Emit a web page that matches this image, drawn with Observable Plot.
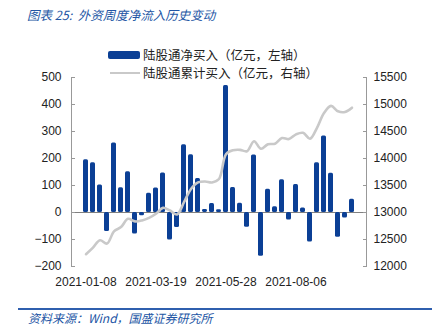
<!DOCTYPE html>
<html><head><meta charset="utf-8">
<script src="https://cdn.jsdelivr.net/npm/d3@7"></script>
<script src="https://cdn.jsdelivr.net/npm/@observablehq/plot@0.6"></script>
<style>
body{margin:0;background:#fff;}
#wrap{position:relative;width:442px;height:331px;overflow:hidden;font-family:"Noto Sans CJK SC",sans-serif;background:#fff;}
#chart{position:absolute;left:0;top:0;}
.title{position:absolute;left:27px;top:6px;font-size:12.5px;line-height:18px;font-style:italic;color:#2255a4;white-space:nowrap;}
.leg{position:absolute;font-size:12.5px;line-height:16px;color:#222;white-space:nowrap;}
.sw1{position:absolute;left:108px;top:51px;width:32px;height:8px;background:#0b3f95;border-radius:2px;}
.sw2{position:absolute;left:110px;top:72px;width:30px;height:2px;background:#c9c9c9;}
.foot{position:absolute;left:28px;top:309px;font-size:12px;line-height:18px;font-style:italic;color:#2255a4;white-space:nowrap;}
.fline{position:absolute;left:18px;top:308px;width:414px;height:1.5px;background:#2f5fae;}
</style></head>
<body>
<div id="wrap">
  <div id="chart"></div>
  <div class="title">图表 25:&nbsp; 外资周度净流入历史变动</div>
  <div class="sw1"></div><div class="leg" style="left:143px;top:47px;">陆股通净买入（亿元，左轴）</div>
  <div class="sw2"></div><div class="leg" style="left:143px;top:65px;">陆股通累计买入（亿元，右轴）</div>
  <div class="fline"></div>
  <div class="foot">资料来源：Wind，国盛证券研究所</div>
</div>
<script>
const dates = ["2021-01-08","2021-01-15","2021-01-22","2021-01-29","2021-02-05","2021-02-12","2021-02-19","2021-02-26","2021-03-05","2021-03-12",
"2021-03-19","2021-03-26","2021-04-02","2021-04-09","2021-04-16","2021-04-23","2021-04-30","2021-05-07","2021-05-14","2021-05-21",
"2021-05-28","2021-06-04","2021-06-11","2021-06-18","2021-06-25","2021-07-02","2021-07-09","2021-07-16","2021-07-23","2021-07-30",
"2021-08-06","2021-08-13","2021-08-20","2021-08-27","2021-09-03","2021-09-10","2021-09-17","2021-09-24","2021-10-01"];
const netBuy = [195,184,102,-70,257,92,151,-80,-12,71,
91,146,-102,-56,251,214,126,11,33,10,
470,93,34,-55,213,-162,86,21,121,-28,
104,17,-109,184,283,145,-92,-20,49];
const cumBuy = [12228,12350,12485,12425,12650,12730,12884,12835,12853,12900,
12976,13086,13037,12963,13190,13436,13557,13575,13557,13620,
14079,14152,14160,14135,14320,14180,14263,14274,14378,14360,
14447,14476,14366,14568,14843,14975,14875,14862,14940];
const leftTicks = [-200,-100,0,100,200,300,400,500];
const rightTicks = [12000,12500,13000,13500,14000,14500,15000,15500];
const xTickLabels = ["2021-01-08","2021-03-19","2021-05-28","2021-08-06"];

const table = dates.map((d,i)=>({date:d, net:netBuy[i], cum:cumBuy[i]}));
// right axis aligned to left: 12000..15500 <-> -200..500
const toLeft = v => (v - 13000) / 5;

const plot = Plot.plot({
  width:442, height:331,
  marginLeft:71, marginRight:76, marginTop:77, marginBottom:65,
  style:{fontFamily:"'Liberation Sans', Arial, sans-serif", fontSize:"12px", color:"#222", background:"transparent"},
  x:{type:"band", domain:dates, padding:0.22, label:null},
  y:{domain:[-200,500], label:null},
  marks:[
    Plot.ruleY([0], {stroke:"#808080"}),
    Plot.barY(table, {x:"date", y:"net", fill:"#0b3f95", rx:1.5}),
    Plot.line(table, {x:"date", y:d=>toLeft(d.cum), stroke:"#c9c9c9", strokeWidth:2.6, curve:"catmull-rom"}),
    Plot.axisX({ticks:xTickLabels, tickSize:0, tickPadding:11, label:null}),
    Plot.axisY({anchor:"left", ticks:leftTicks, tickSize:-4, tickPadding:14, stroke:"#999", label:null}),
    Plot.axisY({anchor:"right", ticks:leftTicks, tickFormat:(d,i)=>String(rightTicks[leftTicks.indexOf(d)]), tickSize:-4, tickPadding:11, stroke:"#999", label:null}),
    Plot.frame({anchor:"left", stroke:"#999"}),
    Plot.frame({anchor:"right", stroke:"#999"})
  ]
});
document.getElementById("chart").appendChild(plot);
</script>
</body></html>
